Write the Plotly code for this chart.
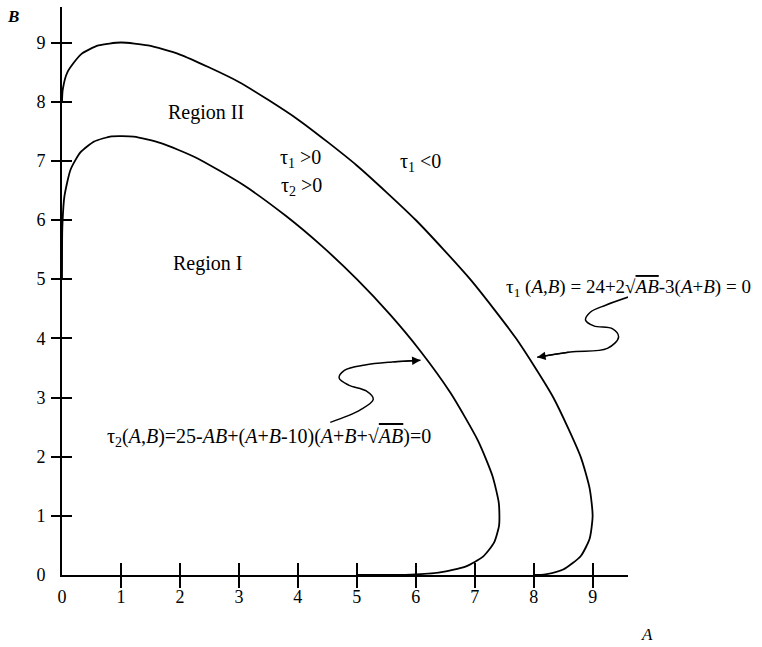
import plotly.graph_objects as go

# boundary tau1(A,B)=0 (outer curve)
tau1_A = [0, 0.012, 0.093, 0.322, 0.618, 1.0, 1.459, 2.0, 3.0, 4.0, 5.0, 6.0,
          6.922, 7.70, 8.333, 8.796, 8.95, 9.0, 8.95, 8.8, 8.5, 8.2, 8.0]
tau1_B = [8.0, 8.2, 8.5, 8.8, 8.95, 9.0, 8.95, 8.796, 8.333, 7.70, 6.922, 6.0,
          5.0, 4.0, 3.0, 2.0, 1.459, 1.0, 0.618, 0.322, 0.093, 0.012, 0]

# boundary tau2(A,B)=0 (inner curve)
tau2_A = [0, 0.002, 0.007, 0.039, 0.146, 0.315, 0.546, 0.843, 1.215, 1.678, 2.267,
          3.071, 3.795, 4.409, 5.0, 5.558, 6.071, 6.594, 7.057, 7.300, 7.409,
          7.414, 7.327, 7.146, 6.854, 6.388, 5.918, 5.664, 5.0]
tau2_B = [5.0, 5.664, 5.918, 6.388, 6.854, 7.146, 7.327, 7.414, 7.409, 7.300, 7.057,
          6.594, 6.071, 5.558, 5.0, 4.409, 3.795, 3.071, 2.267, 1.678, 1.215,
          0.843, 0.546, 0.315, 0.146, 0.039, 0.007, 0.002, 0]

# squiggly pointer lines
sq1_A = [9.61, 9.22, 8.96, 8.88, 9.02, 9.34, 9.44, 9.25, 8.62, 8.06]
sq1_B = [4.70, 4.56, 4.44, 4.31, 4.21, 4.16, 4.02, 3.83, 3.77, 3.68]
sq2_A = [4.55, 5.06, 5.28, 5.16, 4.86, 4.70, 4.79, 5.14, 5.60, 6.08]
sq2_B = [2.58, 2.79, 2.97, 3.11, 3.21, 3.33, 3.46, 3.55, 3.60, 3.63]

ticks = [0, 1, 2, 3, 4, 5, 6, 7, 8, 9]
cross_ticks = [1, 2, 3, 4, 5, 6, 7, 8, 9]

FONT = "Liberation Serif"
ov = "<span style='text-decoration:overline'><i>AB</i></span>"

fig = go.Figure()
for xs, ys in [(tau1_A, tau1_B), (tau2_A, tau2_B)]:
    fig.add_trace(go.Scatter(x=xs, y=ys, mode="lines", line=dict(color="black", width=1.8, shape="spline", smoothing=0.6),
                             hoverinfo="skip", showlegend=False))
for xs, ys in [(sq1_A, sq1_B), (sq2_A, sq2_B)]:
    fig.add_trace(go.Scatter(x=xs, y=ys, mode="lines", line=dict(color="black", width=1.5, shape="spline", smoothing=1.0),
                             hoverinfo="skip", showlegend=False, cliponaxis=False))
# dummy traces so the tick-only overlay axes get drawn
for k in ["2", "3"]:
    fig.add_trace(go.Scatter(x=[0], y=[0], xaxis="x" + k, yaxis="y" + k, mode="markers",
                             marker=dict(opacity=0), hoverinfo="skip", showlegend=False))

rng = [0, 9.6]
base = dict(range=rng, showgrid=False, zeroline=False, fixedrange=True)
fig.update_layout(
    width=762, height=647,
    margin=dict(l=62, r=134, t=7, b=72),
    plot_bgcolor="white", paper_bgcolor="white",
    font=dict(family=FONT, size=18, color="black"),
    xaxis=dict(**base, tickvals=ticks, ticks="", ticklen=0, showline=True, linecolor="black", linewidth=1.7,
               ticklabelstandoff=5),
    yaxis=dict(**base, tickvals=ticks, ticks="", ticklen=0, showline=True, linecolor="black", linewidth=1.7,
               ticklabelstandoff=11),
    xaxis2=dict(**base, overlaying="x", anchor="y", side="bottom", tickvals=cross_ticks, ticks="outside",
                ticklen=12, tickwidth=1.5, tickcolor="black", showticklabels=False),
    xaxis3=dict(**base, overlaying="x", anchor="y", side="bottom", tickvals=cross_ticks, ticks="inside",
                ticklen=12, tickwidth=1.5, tickcolor="black", showticklabels=False),
    yaxis2=dict(**base, overlaying="y", anchor="x", side="left", tickvals=cross_ticks, ticks="outside",
                ticklen=10, tickwidth=1.5, tickcolor="black", showticklabels=False),
    yaxis3=dict(**base, overlaying="y", anchor="x", side="left", tickvals=cross_ticks, ticks="inside",
                ticklen=10, tickwidth=1.5, tickcolor="black", showticklabels=False),
)

# axis names sit outside the plotting area, so they go in paper coordinates
fig.add_annotation(x=-0.0866, y=0.984, xref="paper", yref="paper", text="<i><b>B</b></i>", showarrow=False,
                   xanchor="center", yanchor="middle", font=dict(family=FONT, size=17, color="black"))
fig.add_annotation(x=1.0336, y=-0.1056, xref="paper", yref="paper", text="<i>A</i>", showarrow=False,
                   xanchor="center", yanchor="middle", font=dict(family=FONT, size=17, color="black"))

labels = [
    (2.44, 7.82, "Region II", "center", 20),
    (2.46, 5.27, "Region I", "center", 20),
    (4.04, 7.04, "τ<sub>1</sub> &gt;0", "center", 20),
    (4.07, 6.57, "τ<sub>2</sub> &gt;0", "center", 20),
    (6.08, 6.98, "τ<sub>1</sub> &lt;0", "center", 20),
    (7.5, 4.85, "τ<sub>1</sub> (<i>A</i>,<i>B</i>) = 24+2√" + ov + "-3(<i>A</i>+<i>B</i>) = 0", "left", 19),
    (0.73, 2.33, "τ<sub>2</sub>(<i>A</i>,<i>B</i>)=25-<i>AB</i>+(<i>A</i>+<i>B</i>-10)(<i>A</i>+<i>B</i>+√" + ov + ")=0", "left", 20),
]
for x, y, t, anc, sz in labels:
    fig.add_annotation(x=x, y=y, text=t, showarrow=False, xanchor=anc, yanchor="middle",
                       font=dict(family=FONT, size=sz, color="black"))

for xs, ys in [(sq1_A, sq1_B), (sq2_A, sq2_B)]:
    fig.add_annotation(x=xs[-1], y=ys[-1], ax=xs[-2], ay=ys[-2], axref="x", ayref="y", text="",
                       showarrow=True, arrowhead=2, arrowsize=1.2, arrowwidth=1.4, arrowcolor="black")

# the page's default body margin would push the figure 8px right and down
fig.write_html("out.html", config={"displayModeBar": False},
               post_script="document.body.style.margin='0';")
